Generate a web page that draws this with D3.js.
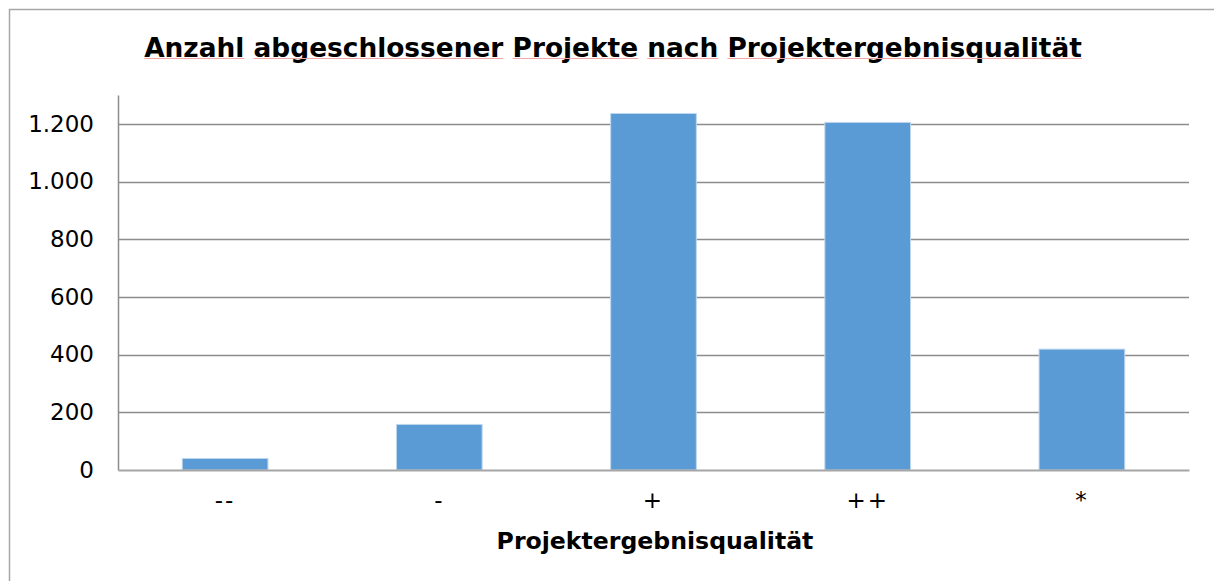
<!DOCTYPE html>
<html>
<head>
<meta charset="utf-8">
<script src="https://cdn.jsdelivr.net/npm/d3@7"></script>
<style>
  html, body { margin: 0; padding: 0; background: #fff; }
  svg { display: block; font-family: "DejaVu Sans", Verdana, sans-serif; }
</style>
</head>
<body>
<svg id="chart"></svg>
<script>
const categories = ['--', '-', '+', '++', '*'];
const counts = [40, 158, 1236, 1205, 419];
const yTicks = [0, 200, 400, 600, 800, 1000, 1200];
const yMax = 1300;
const chartTitle = 'Anzahl abgeschlossener Projekte nach Projektergebnisqualität';
const xTitle = 'Projektergebnisqualität';

const width = 1214;
const height = 581;
const svg = d3.select('#chart').attr('width', width).attr('height', height);

// outer frame (right and bottom edges run off the picture)
svg.append('rect')
  .attr('x', 9.5).attr('y', 9.5)
  .attr('width', width + 20).attr('height', height + 20)
  .attr('fill', 'none')
  .attr('stroke', '#a6a6a6')
  .attr('stroke-width', 1.5);

const plot = { left: 118, right: 1189, top: 95, bottom: 470 };

const x = d3.scaleBand()
  .domain(categories)
  .range([plot.left, plot.right])
  .paddingInner(0.6)
  .paddingOuter(0.3);

const y = d3.scaleLinear()
  .domain([0, yMax])
  .range([plot.bottom, plot.top]);

// gridlines
svg.append('g')
  .selectAll('line')
  .data(yTicks.filter(d => d > 0))
  .enter()
  .append('line')
  .attr('x1', plot.left).attr('x2', plot.right)
  .attr('y1', d => Math.round(y(d)) + 0.5)
  .attr('y2', d => Math.round(y(d)) + 0.5)
  .attr('stroke', '#8c8c8c')
  .attr('stroke-width', 1.5);

// bars
svg.append('g')
  .selectAll('rect')
  .data(counts)
  .enter()
  .append('rect')
  .attr('x', (_, i) => x(categories[i]))
  .attr('width', x.bandwidth())
  .attr('y', d => y(d))
  .attr('height', d => y(0) - y(d))
  .attr('fill', '#5b9bd5')
  .attr('stroke', '#bdd7ee')
  .attr('stroke-width', 1);

// y axis
const yAxis = d3.axisLeft(y)
  .tickValues(yTicks)
  .tickSize(0)
  .tickPadding(24)
  .tickFormat(d => d3.format(',')(d).replace(/,/g, '.'));

const yAxisG = svg.append('g')
  .attr('transform', `translate(${plot.left}, 0)`)
  .call(yAxis);
yAxisG.select('.domain').attr('stroke', '#8c8c8c').attr('stroke-width', 1.5);
yAxisG.selectAll('text')
  .attr('font-family', '"DejaVu Sans", Verdana, sans-serif')
  .attr('font-size', 23)
  .attr('fill', '#000');

// x axis
const xAxis = d3.axisBottom(x).tickSize(0).tickPadding(22);
const xAxisG = svg.append('g')
  .attr('transform', `translate(0, ${plot.bottom})`)
  .call(xAxis);
xAxisG.select('.domain').attr('stroke', '#a6a6a6').attr('stroke-width', 2);
xAxisG.selectAll('text')
  .attr('font-family', '"DejaVu Sans", Verdana, sans-serif')
  .attr('font-size', 23)
  .attr('letter-spacing', 2)
  .attr('fill', '#000');

// axis title
svg.append('text')
  .attr('x', 655)
  .attr('y', 549)
  .attr('text-anchor', 'middle')
  .attr('font-size', 23.6)
  .attr('font-weight', 'bold')
  .text(xTitle);

// chart title with the pink spell-check underline under each word
const title = svg.append('text')
  .attr('x', 613)
  .attr('y', 57)
  .attr('text-anchor', 'middle')
  .attr('font-size', 26.4)
  .attr('font-weight', 'bold')
  .text(chartTitle);

const node = title.node();
let pos = 0;
chartTitle.split(' ').forEach(word => {
  const start = node.getStartPositionOfChar(pos).x;
  const w = node.getSubStringLength(pos, word.length);
  svg.append('line')
    .attr('x1', start).attr('x2', start + w)
    .attr('y1', 58.5).attr('y2', 58.5)
    .attr('stroke', '#f4a6a6')
    .attr('stroke-width', 1);
  pos += word.length + 1;
});
</script>
</body>
</html>
